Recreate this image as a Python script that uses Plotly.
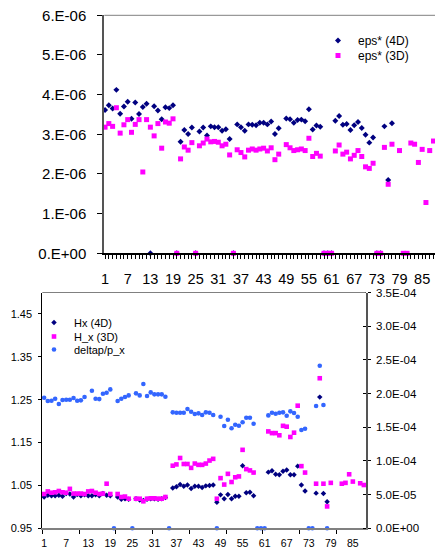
import plotly.graph_objects as go

# ---------------- data ----------------
cats = list(range(1, 89))

# top chart, values in units of 1e-6
eps_4d = [3.61, 3.73, 3.65, 4.12, 3.52, 3.70, 3.82, 3.39, 3.80, 3.51,
          3.69, 3.77, 0.00, 3.71, 3.60, 3.38, 3.68, 3.66, 3.73, 0.00,
          2.81, 3.11, 3.01, 3.17, 0.00, 3.07, 3.17, 2.97, 3.20, 3.18,
          3.18, 3.09, 3.13, 2.88, 0.00, 3.25, 3.18, 3.09, 3.25, 3.24,
          3.23, 3.29, 3.29, 3.25, 3.32, 3.01, 3.15, None, 3.40, 3.38,
          3.29, 3.36, 3.37, 3.33, 3.63, 3.12, 3.22, 3.19, 0.00, 0.00,
          0.00, 3.34, 3.46, 3.24, 3.26, 3.11, 3.23, 3.31, 3.16, 2.99,
          2.79, 2.92, 0.00, 0.00, 3.20, 1.85, 3.28, None, None, None,
          None, None, None, None, None, None, None, None]
eps_3d = [3.18, 3.27, 3.20, 3.67, 3.03, 3.24, 3.37, 3.05, 3.25, 3.37,
          2.05, 3.37, 3.18, 2.96, 3.27, 2.65, 3.31, 3.28, 3.39, 0.00,
          2.38, 2.68, 2.60, 2.79, 0.00, 2.71, 2.78, 2.88, 2.81, 2.82,
          2.80, 2.71, 2.75, 2.48, 0.00, 2.61, 2.54, 2.43, 2.60, 2.63,
          2.60, 2.63, 2.65, 2.58, 2.66, 2.36, 2.50, None, 2.74, 2.66,
          2.59, 2.61, 2.63, 2.59, 2.90, 2.44, 2.52, 2.45, 0.00, 0.00,
          0.00, 2.58, 2.73, 2.50, 2.55, 2.38, 2.47, 2.59, 2.44, 2.18,
          2.14, 2.27, 0.00, 0.00, 2.67, 1.74, 2.75, None, 2.59, 0.00,
          0.00, 2.78, 2.75, 2.29, 2.62, 1.28, 2.59, 2.83]

# bottom chart, left axis
hx_4d = [1.023, 1.027, 1.026, 1.026, 1.027, 1.025, 1.031, 1.030, 1.023, 1.029,
         1.026, 1.028, 1.026, 1.026, 1.028, 1.026, 1.031, 1.027, 1.026, None,
         1.023, 1.018, 1.019, 1.018, None, 1.019, 1.016, 1.015, 1.018, 1.019,
         1.019, 1.018, 1.019, 1.022, None, 1.044, 1.047, 1.052, 1.048, 1.051,
         1.043, 1.048, 1.048, 1.045, 1.049, 1.050, 1.051, 1.011, 1.028, 1.019,
         1.029, 1.019, 1.025, 1.025, 1.096, 1.033, 1.034, 1.026, None, None,
         None, 1.081, 1.084, 1.076, 1.075, 1.083, 1.086, 1.075, 1.075, 1.095,
         1.051, 1.037, None, None, 1.032, 1.256, 1.031, 1.012, None, None,
         None, None, None, None, None, None, None, None]
hx_3d = [1.030, 1.036, 1.033, 1.034, 1.037, 1.034, 1.033, 1.042, 1.031, 1.031,
         1.031, 1.030, 1.036, 1.037, 1.033, 1.030, 1.031, 1.054, 1.030, None,
         1.030, 1.023, 1.024, 1.019, None, 1.019, 1.019, 1.013, 1.019, 1.020,
         1.020, 1.019, 1.019, 1.023, None, 1.096, 1.099, 1.114, 1.100, 1.100,
         1.091, 1.101, 1.098, 1.098, 1.101, 1.108, 1.112, 1.019, 1.067, 1.052,
         1.077, 1.058, 1.069, 1.071, 1.133, 1.088, 1.085, 1.080, None, None,
         None, 1.176, 1.172, 1.172, 1.167, 1.189, 1.187, 1.163, 1.173, 1.236,
         1.095, 1.080, None, None, 1.054, 1.300, 1.054, 1.001, 1.056, None,
         None, 1.054, 1.056, 1.076, 1.059, None, 1.055, 1.051]
# bottom chart, right axis, values in units of 1e-4
deltap = [1.938, 1.889, 1.894, 1.923, 1.844, 1.904, 1.909, 1.909, 1.933, 1.894,
          1.899, 1.948, None, 2.042, 1.923, 1.918, 1.998, 2.012, 2.062, 0.0,
          1.889, 1.923, 1.948, 1.973, 0.0, 2.003, 1.973, 2.141, 1.963, 2.017,
          1.988, 1.988, 1.988, 1.953, 0.0, 1.721, 1.716, 1.716, 1.716, 1.770,
          1.730, 1.696, 1.706, 1.681, 1.721, 1.716, 1.681, 0.0, 1.656, 1.518,
          1.612, 1.484, 1.538, 1.523, 1.573, 1.641, 1.641, 1.552, 0.0, 0.0,
          0.0, 1.676, 1.716, 1.701, 1.716, 1.721, 1.671, 1.736, 1.711, 1.656,
          1.459, 1.478, 0.0, 0.0, 1.815, 2.413, 1.830, 0.0, None, None,
          None, None, None, None, None, None, None, None]

top_y_ticks = [0, 1e-6, 2e-6, 3e-6, 4e-6, 5e-6, 6e-6]
top_y_text = ["0.E+00", "1.E-06", "2.E-06", "3.E-06", "4.E-06", "5.E-06", "6.E-06"]
x_label_cats = list(range(1, 86, 6))
bot_left_ticks = [0.95, 1.05, 1.15, 1.25, 1.35, 1.45]
bot_left_text = ["0.95", "1.05", "1.15", "1.25", "1.35", "1.45"]
bot_right_ticks = [0, 5e-5, 1e-4, 1.5e-4, 2e-4, 2.5e-4, 3e-4, 3.5e-4]
bot_right_text = ["0.0E+00", "5.0E-05", "1.0E-04", "1.5E-04", "2.0E-04",
                  "2.5E-04", "3.0E-04", "3.5E-04"]

# ---------------- layout helpers ----------------
W, H = 435, 550
FONT = "Liberation Sans, Arial, sans-serif"


def fx(p):
    return p / W


def fy(p):
    return 1 - p / H


def scale(vals, f):
    return [None if v is None else v * f for v in vals]


TOP_X0, TOP_X1, TOP_Y0, TOP_Y1 = 104.3, 435.0, 15.3, 253.3
BOT_X0, BOT_X1, BOT_Y0, BOT_Y1 = 42.3, 365.7, 292.5, 528.3

NAVY = "#000080"
MAG = "#FF00FF"
BLUE = "#3366FF"

fig = go.Figure()

fig.add_trace(go.Scatter(x=cats, y=scale(eps_4d, 1e-6), mode="markers", name="eps* (4D)",
                         marker=dict(symbol="diamond", color=NAVY, size=4.6),
                         xaxis="x", yaxis="y", legend="legend", cliponaxis=False,
                         showlegend=True))
fig.add_trace(go.Scatter(x=cats, y=scale(eps_3d, 1e-6), mode="markers", name="eps* (3D)",
                         marker=dict(symbol="square", color=MAG, size=5),
                         xaxis="x", yaxis="y", legend="legend2", cliponaxis=False,
                         showlegend=True))

fig.add_trace(go.Scatter(x=cats, y=hx_4d, mode="markers", name="Hx (4D)",
                         marker=dict(symbol="diamond", color=NAVY, size=4.2),
                         xaxis="x2", yaxis="y2", legend="legend3", cliponaxis=False,
                         showlegend=True))
fig.add_trace(go.Scatter(x=cats, y=hx_3d, mode="markers", name="H_x (3D)",
                         marker=dict(symbol="square", color=MAG, size=4.6),
                         xaxis="x2", yaxis="y2", legend="legend4", cliponaxis=False,
                         showlegend=True))
fig.add_trace(go.Scatter(x=cats, y=scale(deltap, 1e-4), mode="markers", name="deltap/p_x",
                         marker=dict(symbol="circle", color=BLUE, size=4.6),
                         xaxis="x2", yaxis="y3", legend="legend5", cliponaxis=False,
                         showlegend=True))


def leg(xp, yp, size):
    return dict(x=fx(xp), y=fy(yp), xanchor="left", yanchor="top", visible=True,
                bgcolor="rgba(0,0,0,0)", font=dict(size=size, family=FONT, color="black"),
                itemwidth=30, borderwidth=0)


fig.update_layout(
    template="none",
    showlegend=True,
    width=W, height=H,
    margin=dict(l=0, r=0, t=0, b=0, pad=0),
    paper_bgcolor="white", plot_bgcolor="white",
    font=dict(family=FONT, color="black"),
    xaxis=dict(domain=[fx(TOP_X0), fx(TOP_X1)], anchor="y", range=[0.8, 88.4],
               tickmode="array", tickvals=cats,
               ticktext=[str(c) if c in x_label_cats else "" for c in cats],
               ticks="outside", ticklen=4, tickwidth=1, tickcolor="#000000",
               showline=True, linecolor="#000000", linewidth=1.5,
               showgrid=False, zeroline=False, tickfont=dict(size=14.5),
               ticklabelstandoff=8, automargin=False),
    yaxis=dict(domain=[fy(TOP_Y1), fy(TOP_Y0)], anchor="x", range=[0, 6e-6],
               tickmode="array", tickvals=top_y_ticks, ticktext=top_y_text,
               ticks="outside", ticklen=5, tickwidth=1, tickcolor="#000000",
               showline=True, linecolor="#555555", linewidth=2,
               showgrid=False, zeroline=False, tickfont=dict(size=15),
               ticklabelstandoff=8, automargin=False),
    xaxis2=dict(domain=[fx(BOT_X0), fx(BOT_X1)], anchor="y2", range=[0.5, 88.5],
                tickmode="array", tickvals=x_label_cats, ticktext=[str(c) for c in x_label_cats],
                ticks="", showline=True, linecolor="#808080", linewidth=2,
                minor=dict(tickmode="array", tickvals=[0.5 + 10 * k for k in range(9)],
                           ticks="outside", ticklen=4, tickcolor="#000000", tickwidth=1),
                showgrid=False, zeroline=False, tickfont=dict(size=10.5),
                ticklabelstandoff=4, automargin=False),
    yaxis2=dict(domain=[fy(BOT_Y1), fy(BOT_Y0)], anchor="x2", range=[0.95, 1.5],
                tickmode="array", tickvals=bot_left_ticks, ticktext=bot_left_text,
                ticks="outside", ticklen=3, tickwidth=1, tickcolor="#000000",
                showline=True, linecolor="#000000", linewidth=1,
                showgrid=False, zeroline=False, tickfont=dict(size=11),
                ticklabelstandoff=4, automargin=False),
    yaxis3=dict(overlaying="y2", side="right", anchor="x2", range=[0, 3.5e-4],
                tickmode="array", tickvals=bot_right_ticks, ticktext=bot_right_text,
                ticks="outside", ticklen=3, tickwidth=1, tickcolor="#000000",
                minor=dict(tickmode="array", tickvals=[v + 1e-10 for v in bot_right_ticks],
                           ticks="inside", ticklen=3, tickcolor="#000000", tickwidth=1),
                showline=True, linecolor="#555555", linewidth=2,
                showgrid=False, zeroline=False, tickfont=dict(size=11.5),
                ticklabelstandoff=3, automargin=False),
    legend=leg(318, 26, 12),
    legend2=leg(318, 41, 12),
    legend3=leg(34, 308, 11),
    legend4=leg(34, 322, 11),
    legend5=leg(34, 335, 11),
    shapes=[
        dict(type="line", xref="paper", yref="paper", x0=fx(TOP_X0), x1=fx(TOP_X1),
             y0=fy(TOP_Y0), y1=fy(TOP_Y0), line=dict(color="#808080", width=1)),
        dict(type="line", xref="paper", yref="paper", x0=fx(BOT_X0), x1=fx(BOT_X1),
             y0=fy(BOT_Y0), y1=fy(BOT_Y0), line=dict(color="#808080", width=1)),
    ],
)

fig.write_html("out.html")
